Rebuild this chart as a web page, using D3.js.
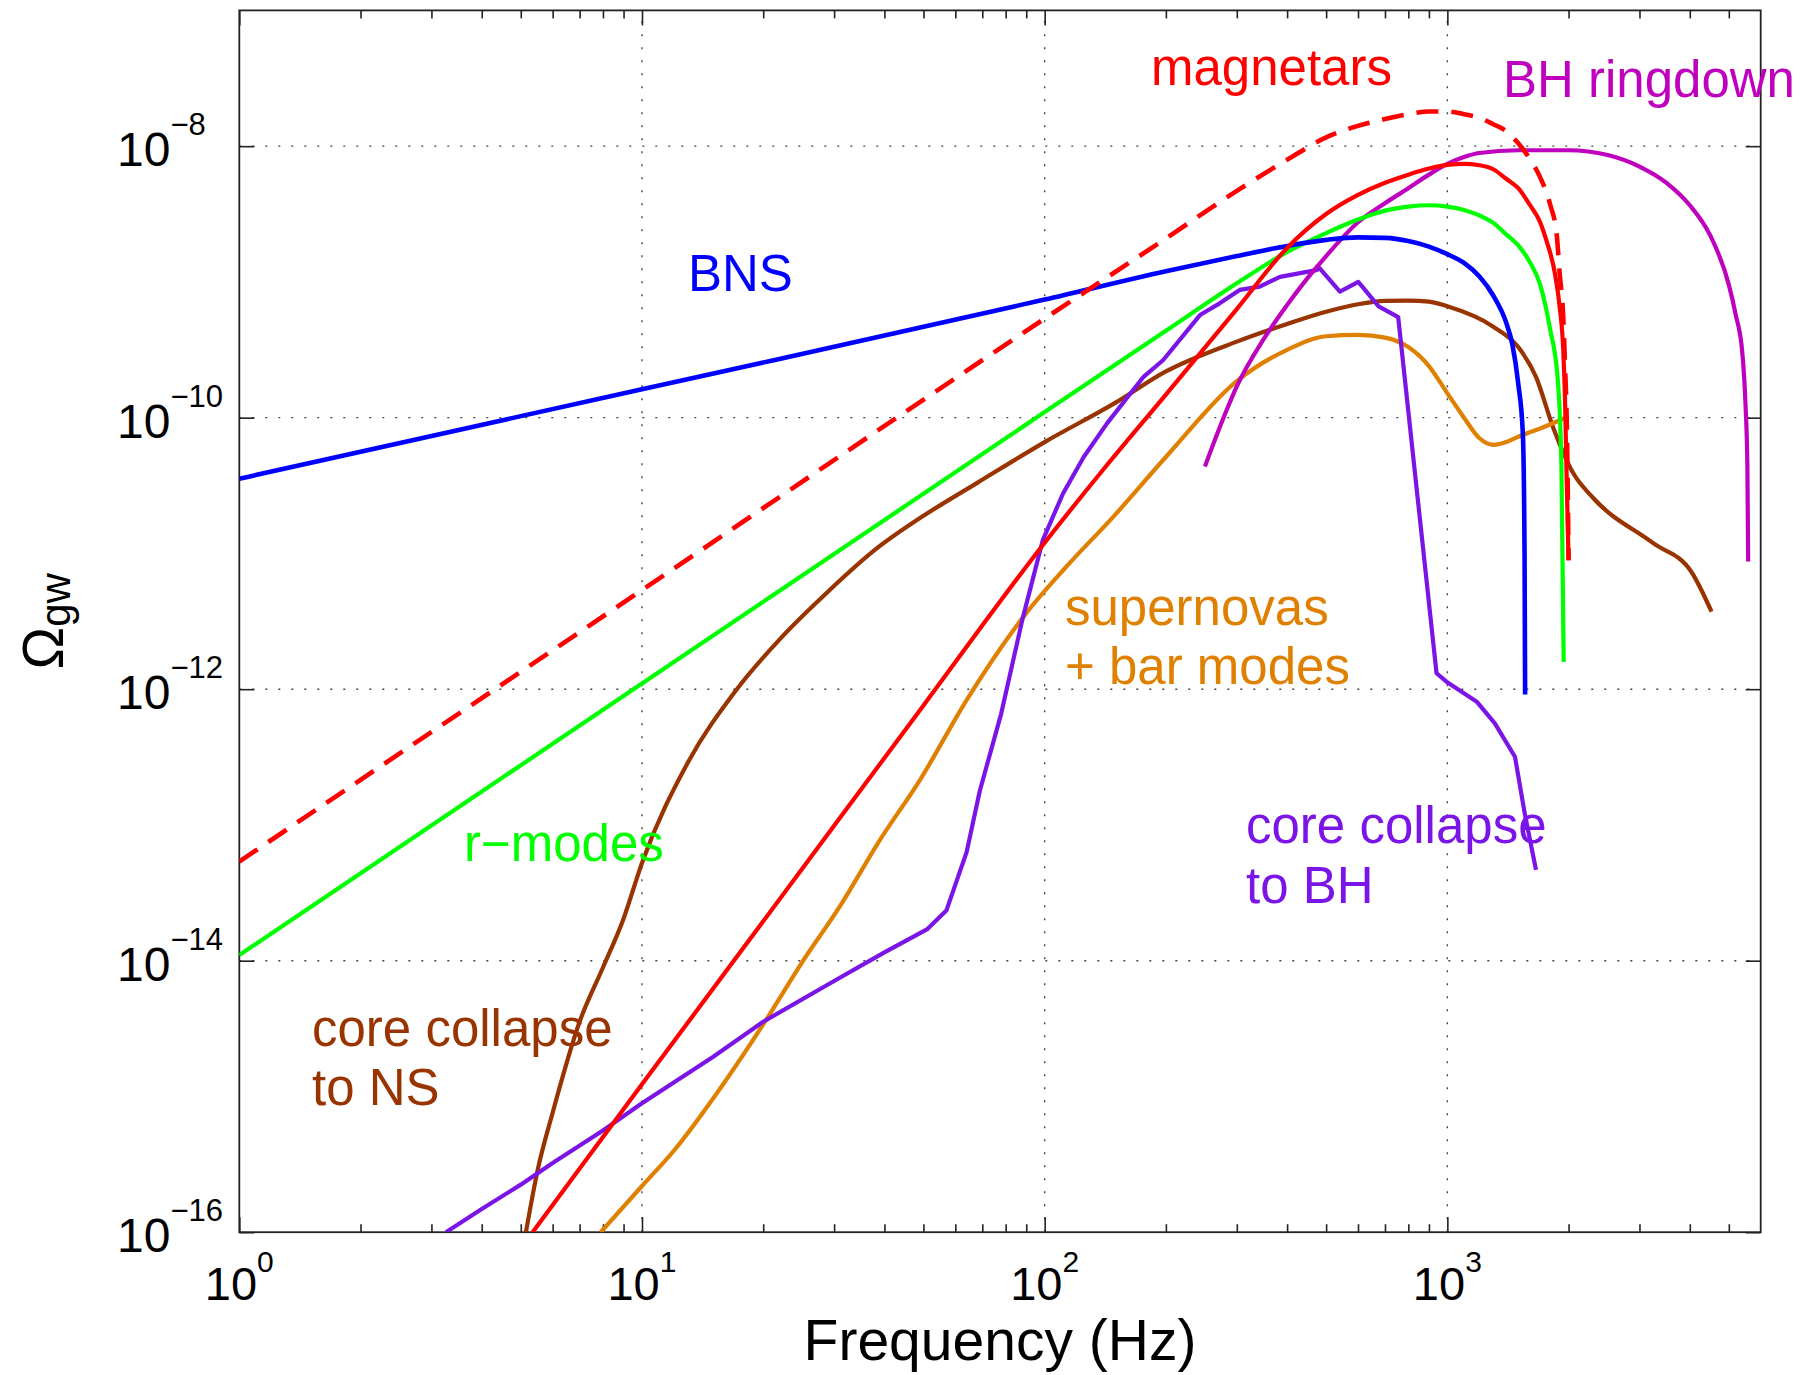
<!DOCTYPE html>
<html><head><meta charset="utf-8">
<script src="https://cdn.jsdelivr.net/npm/d3@7"></script>
<style>
body{margin:0;background:#fff}
svg{display:block}
text{font-family:"Liberation Sans",Arial,Helvetica,sans-serif}
</style>
</head><body>
<svg id="chart" width="1804" height="1375"></svg>
<script>
// ---------------- data (Hz, Omega_gw) ----------------
const bnsFreq  = [1, 10, 100, 200, 300, 400, 500, 600, 700, 800, 900, 1000, 1100, 1200, 1300, 1400, 1450, 1500, 1540, 1555, 1560];
const bnsOmega = [3.55e-11, 1.62e-10, 7.41e-10, 1.20e-9, 1.55e-9, 1.84e-9, 2.04e-9, 2.13e-9, 2.11e-9, 2.00e-9, 1.82e-9, 1.60e-9, 1.38e-9, 1.10e-9, 7.94e-10, 5.01e-10, 3.47e-10, 1.78e-10, 7.59e-11, 1.0e-11, 9.12e-13];

const magUpperFreq  = [1, 10, 100, 200, 300, 400, 500, 600, 700, 800, 900, 1000, 1100, 1200, 1300, 1400, 1500, 1600, 1700, 1800, 1870, 1900, 1940, 1960, 1980, 2000];
const magUpperOmega = [5.37e-14, 5.37e-12, 5.37e-10, 2.09e-9, 4.68e-9, 7.94e-9, 1.16e-8, 1.41e-8, 1.585e-8, 1.72e-8, 1.80e-8, 1.80e-8, 1.72e-8, 1.62e-8, 1.45e-8, 1.29e-8, 1.05e-8, 8.13e-9, 5.89e-9, 3.72e-9, 2.19e-9, 1.17e-9, 5.50e-10, 2.40e-10, 8.91e-11, 8.91e-12];

const magFreq  = [5.35, 10, 20, 50, 100, 140, 200, 300, 400, 500, 600, 700, 800, 900, 1000, 1100, 1200, 1300, 1400, 1500, 1600, 1700, 1760, 1850, 1900, 1940, 1960, 1980, 2000];
const magOmega = [1.0e-16, 1.23e-15, 1.95e-14, 7.59e-13, 1.20e-11, 4.17e-11, 1.48e-10, 6.31e-10, 1.78e-9, 3.16e-9, 4.37e-9, 5.37e-9, 6.17e-9, 6.84e-9, 7.29e-9, 7.41e-9, 7.24e-9, 6.76e-9, 5.75e-9, 4.90e-9, 3.72e-9, 2.75e-9, 2.04e-9, 1.15e-9, 6.61e-10, 3.16e-10, 1.35e-10, 3.16e-11, 8.91e-12];

const rmodeFreq  = [1, 10, 100, 200, 300, 400, 500, 600, 700, 800, 900, 1000, 1100, 1200, 1300, 1400, 1500, 1600, 1700, 1800, 1880, 1920, 1945];
const rmodeOmega = [1.10e-14, 1.10e-12, 1.10e-10, 4.37e-10, 9.77e-10, 1.66e-9, 2.29e-9, 2.88e-9, 3.35e-9, 3.59e-9, 3.67e-9, 3.59e-9, 3.39e-9, 3.09e-9, 2.72e-9, 2.24e-9, 1.86e-9, 1.41e-9, 9.55e-10, 4.47e-10, 1.91e-10, 4.37e-11, 1.585e-12];

const ringFreq  = [250, 280, 300, 350, 400, 450, 500, 600, 700, 800, 900, 1000, 1100, 1200, 1500, 2000, 2500, 3000, 3500, 4000, 4500, 5000, 5200, 5400, 5500, 5560, 5585];
const ringOmega = [4.37e-11, 1.05e-10, 1.70e-10, 3.80e-10, 6.76e-10, 1.07e-9, 1.55e-9, 2.75e-9, 3.80e-9, 4.90e-9, 6.17e-9, 7.41e-9, 8.32e-9, 8.91e-9, 9.33e-9, 9.33e-9, 8.61e-9, 7.08e-9, 5.37e-9, 3.67e-9, 2.19e-9, 9.55e-10, 5.75e-10, 3.02e-10, 1.26e-10, 4.37e-11, 8.71e-12];

const ccnsFreq  = [5.15, 5.5, 6, 7, 8, 9, 10, 13, 17, 22, 29, 38, 49, 68, 100, 150, 200, 300, 400, 500, 600, 700, 800, 900, 1000, 1300, 1500, 1660, 1830, 2055, 2300, 3245, 4035, 4530];
const ccnsOmega = [1.0e-16, 2.82e-16, 7.59e-16, 3.55e-15, 8.91e-15, 2.04e-14, 5.25e-14, 2.88e-13, 9.55e-13, 2.34e-12, 5.25e-12, 1.07e-11, 1.82e-11, 3.31e-11, 6.61e-11, 1.29e-10, 2.19e-10, 3.63e-10, 4.90e-10, 6.03e-10, 6.84e-10, 7.24e-10, 7.28e-10, 7.16e-10, 6.61e-10, 4.68e-10, 3.31e-10, 2.00e-10, 8.51e-11, 3.89e-11, 2.57e-11, 1.19e-11, 7.33e-12, 3.72e-12];

const snFreq  = [7.9, 10, 12, 16, 20, 25, 31, 39, 49, 64, 90, 113, 148, 200, 300, 400, 500, 600, 700, 800, 900, 1000, 1100, 1200, 1300, 1400, 1500, 1700, 2000];
const snOmega = [1.0e-16, 2.19e-16, 3.98e-16, 1.26e-15, 3.39e-15, 9.77e-15, 2.51e-14, 7.76e-14, 2.14e-13, 8.32e-13, 3.63e-12, 7.94e-12, 1.86e-11, 5.13e-11, 1.86e-10, 3.16e-10, 3.98e-10, 4.07e-10, 3.89e-10, 3.31e-10, 2.40e-10, 1.51e-10, 1.0e-10, 7.08e-11, 6.31e-11, 6.61e-11, 7.24e-11, 8.32e-11, 1.02e-10];

const ccbhFreq  = [3.26, 4, 5, 6, 8, 10, 15, 20, 30, 40, 51, 57, 64, 69, 78, 88, 99, 111, 125, 143, 176, 197, 243, 272, 305, 342, 384, 473, 482, 541, 601, 675, 755, 940, 995, 1183, 1312, 1472, 1556, 1660];
const ccbhOmega = [1.0e-16, 1.48e-16, 2.24e-16, 3.24e-16, 5.62e-16, 8.91e-16, 1.95e-15, 3.55e-15, 7.08e-15, 1.15e-14, 1.70e-14, 2.34e-14, 6.31e-14, 1.78e-13, 6.61e-13, 3.24e-12, 1.26e-11, 2.75e-11, 5.13e-11, 9.12e-11, 2.00e-10, 2.66e-10, 5.70e-10, 6.95e-10, 8.73e-10, 9.23e-10, 1.09e-9, 1.22e-9, 1.26e-9, 8.47e-10, 1.00e-9, 6.61e-10, 5.50e-10, 1.31e-12, 1.135e-12, 8.09e-13, 5.60e-13, 3.18e-13, 1.22e-13, 4.66e-14];

const xTickValues    = [1, 10, 100, 1000];
const xTickExponents = ["0", "1", "2", "3"];
const xMinorTicks    = [2,3,4,5,6,7,8,9,20,30,40,50,60,70,80,90,200,300,400,500,600,700,800,900,2000,3000,4000,5000];
const yTickValues    = [1e-16, 1e-14, 1e-12, 1e-10, 1e-8];
const yTickExponents = ["\u221216", "\u221214", "\u221212", "\u221210", "\u22128"];

// ---------------- layout ----------------
const L = 239.3, R = 1760.7, T = 10.4, B = 1232.2;
const x = d3.scaleLog().domain([1, 6000]).range([L, R]);
const y = d3.scaleLog().domain([1e-16, 1e-7]).range([B, T]);

const svg = d3.select("#chart");
svg.append("rect").attr("width", 1804).attr("height", 1375).attr("fill", "#fff");

svg.append("defs").append("clipPath").attr("id", "plotclip")
  .append("rect").attr("x", L).attr("y", T).attr("width", R - L).attr("height", B - T);

// grid
const grid = svg.append("g").attr("stroke", "#444").attr("stroke-width", 1.4)
  .attr("stroke-dasharray", "2,11").attr("fill", "none");
grid.selectAll("line.gx").data(xTickValues.slice(1)).join("line")
  .attr("x1", d => x(d)).attr("x2", d => x(d)).attr("y1", B).attr("y2", T);
grid.selectAll("line.gy").data(yTickValues.slice(1)).join("line")
  .attr("y1", d => y(d)).attr("y2", d => y(d)).attr("x1", L).attr("x2", R);

// axes ticks (inward)
function styleAxis(g){ g.select(".domain").remove(); g.selectAll("line").attr("stroke", "#222").attr("stroke-width", 1.6); }
svg.append("g").attr("transform", `translate(0,${B})`)
  .call(d3.axisBottom(x).tickValues(xTickValues).tickSize(-15).tickFormat("")).call(styleAxis);
svg.append("g").attr("transform", `translate(0,${B})`)
  .call(d3.axisBottom(x).tickValues(xMinorTicks).tickSize(-8).tickFormat("")).call(styleAxis);
svg.append("g").attr("transform", `translate(0,${T})`)
  .call(d3.axisTop(x).tickValues(xTickValues).tickSize(-15).tickFormat("")).call(styleAxis);
svg.append("g").attr("transform", `translate(0,${T})`)
  .call(d3.axisTop(x).tickValues(xMinorTicks).tickSize(-8).tickFormat("")).call(styleAxis);
svg.append("g").attr("transform", `translate(${L},0)`)
  .call(d3.axisLeft(y).tickValues(yTickValues).tickSize(-15).tickFormat("")).call(styleAxis);
svg.append("g").attr("transform", `translate(${R},0)`)
  .call(d3.axisRight(y).tickValues(yTickValues).tickSize(-15).tickFormat("")).call(styleAxis);

// frame
svg.append("rect").attr("x", L).attr("y", T).attr("width", R - L).attr("height", B - T)
  .attr("fill", "none").attr("stroke", "#222").attr("stroke-width", 1.8);

// tick labels
const xl = svg.append("g").attr("fill", "#000").attr("text-anchor", "middle");
xTickValues.forEach((v, i) => {
  const t = xl.append("text").attr("x", x(v)).attr("y", 1300).attr("font-size", 47);
  t.append("tspan").text("10");
  t.append("tspan").attr("dy", -28).attr("font-size", 30).text(xTickExponents[i]);
});
const yl = svg.append("g").attr("fill", "#000").attr("text-anchor", "start");
yTickValues.forEach((v, i) => {
  const t = yl.append("text").attr("x", 117).attr("y", y(v) + 20).attr("font-size", 48);
  t.append("tspan").text("10");
  t.append("tspan").attr("dy", -31).attr("font-size", 31).text(yTickExponents[i]);
});

// axis titles
svg.append("text").attr("x", (L + R) / 2).attr("y", 1360).attr("text-anchor", "middle")
  .attr("font-size", 57).attr("fill", "#000").text("Frequency (Hz)");
const yt = svg.append("text").attr("transform", `translate(63,${(T + B) / 2}) rotate(-90)`)
  .attr("text-anchor", "middle").attr("fill", "#000");
yt.append("tspan").attr("font-size", 57).text("\u03A9");
yt.append("tspan").attr("font-size", 42).attr("dy", 7).text("gw");

// curves
const series = [
  {f: ccnsFreq, o: ccnsOmega, color: "#993300", w: 4.2, curve: d3.curveMonotoneX},
  {f: snFreq, o: snOmega, color: "#e08000", w: 4.2, curve: d3.curveMonotoneX},
  {f: ccbhFreq, o: ccbhOmega, color: "#7b14e6", w: 4.2, curve: d3.curveLinear},
  {f: ringFreq, o: ringOmega, color: "#bf00bf", w: 4.2, curve: d3.curveMonotoneX},
  {f: rmodeFreq, o: rmodeOmega, color: "#00ff00", w: 4.2, curve: d3.curveMonotoneX},
  {f: bnsFreq, o: bnsOmega, color: "#0000ff", w: 4.6, curve: d3.curveMonotoneX},
  {f: magFreq, o: magOmega, color: "#ff0000", w: 4.2, curve: d3.curveMonotoneX},
  {f: magUpperFreq, o: magUpperOmega, color: "#ff0000", w: 4.6, curve: d3.curveMonotoneX, dash: "22,13"}
];
const plot = svg.append("g").attr("clip-path", "url(#plotclip)");
series.forEach(s => {
  const pts = s.f.map((f, i) => [f, s.o[i]]);
  const line = d3.line().x(d => x(d[0])).y(d => y(d[1])).curve(s.curve);
  plot.append("path").datum(pts).attr("d", line).attr("fill", "none")
    .attr("stroke", s.color).attr("stroke-width", s.w)
    .attr("stroke-linejoin", "round")
    .attr("stroke-dasharray", s.dash || null);
});

// annotations
const labels = [
  {t: "magnetars", x: 1151, y: 85, c: "#ff0000"},
  {t: "BH ringdown", x: 1503, y: 97, c: "#bf00bf"},
  {t: "BNS", x: 688, y: 291, c: "#0000ff"},
  {t: "r\u2212modes", x: 464, y: 861, c: "#00ff00"},
  {t: "supernovas", x: 1065, y: 625, c: "#e08000"},
  {t: "+ bar modes", x: 1065, y: 684, c: "#e08000"},
  {t: "core collapse", x: 1246, y: 843, c: "#7b14e6"},
  {t: "to BH", x: 1246, y: 903, c: "#7b14e6"},
  {t: "core collapse", x: 312, y: 1046, c: "#993300"},
  {t: "to NS", x: 312, y: 1105, c: "#993300"}
];
svg.append("g").selectAll("text").data(labels).join("text")
  .attr("x", d => d.x).attr("y", d => d.y).attr("fill", d => d.c)
  .attr("font-size", 51).text(d => d.t);
</script>
</body></html>
